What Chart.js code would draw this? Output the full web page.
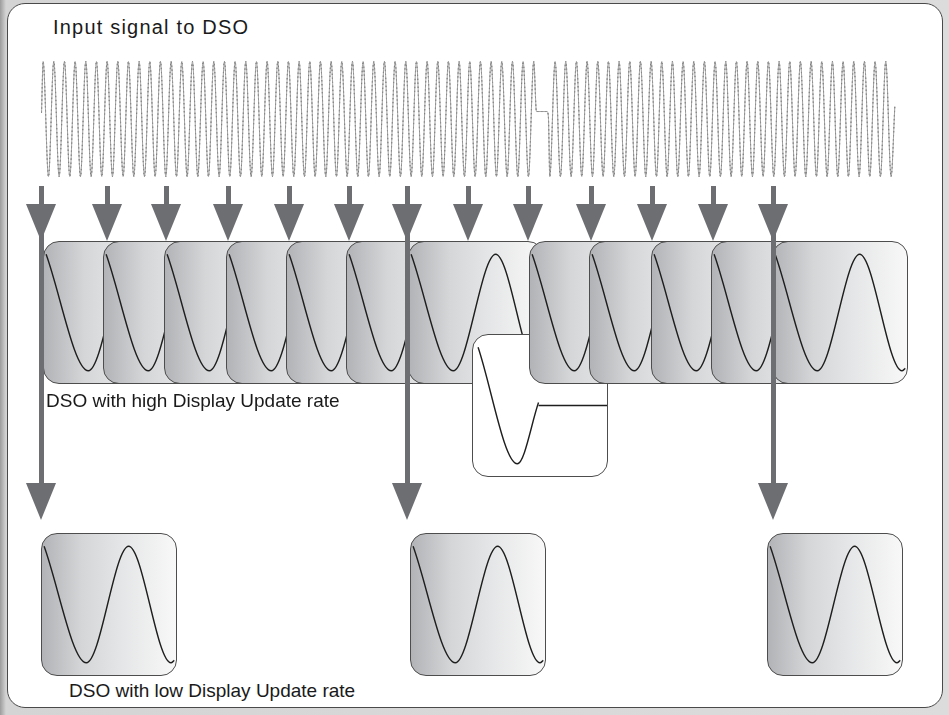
<!DOCTYPE html>
<html>
<head>
<meta charset="utf-8">
<script src="https://cdn.jsdelivr.net/npm/chart.js@4.4.1/dist/chart.umd.min.js"></script>
<style>
  html, body { margin: 0; padding: 0; }
  body {
    width: 949px; height: 715px; overflow: hidden; position: relative;
    background: linear-gradient(90deg, #9c9c9c 0px, #d4d4d4 6px, #dcdcdc 100%);
    font-family: "Liberation Sans", Arial, sans-serif;
  }
  #panel {
    position: absolute; left: 7px; top: 3px; width: 934px; height: 703px;
    background: #fff; border: 1px solid #4a4a4a; border-radius: 18px;
  }
  #signal { position: absolute; left: 33px; top: 50px; }
  .screen {
    position: absolute; width: 134px; height: 141px;
    border: 1px solid #4d4d4d; border-radius: 16px; overflow: hidden;
    background: linear-gradient(90deg, #b2b3b6 0%, #d5d6d8 30%, #e5e6e7 60%, #f8f8f8 100%);
  }
  .screen.popup { background: #fff; }
  .screen canvas { display: block; }
  .label { position: absolute; font-size: 19px; line-height: 19px; color: #1a1a1a; white-space: nowrap; }
  .shaft { position: absolute; width: 5px; background: #6d6e71; }
  .head { position: absolute; width: 30px; height: 37px; background: #6d6e71; clip-path: polygon(0 0, 100% 0, 50% 100%); }
</style>
</head>
<body>
<div id="panel"></div>
<canvas id="signal" width="875" height="138"></canvas>
<script>
// Input signal: one level per half period (peak = 1, trough = -1), null where the glitch replaces it
const signalLevels = [
  1, -1, 1, -1, 1, -1, 1, -1, 1, -1, 1, -1, 1, -1, 1, -1, 1, -1, 1, -1,
  1, -1, 1, -1, 1, -1, 1, -1, 1, -1, 1, -1, 1, -1, 1, -1, 1, -1, 1, -1,
  1, -1, 1, -1, 1, -1, 1, -1, 1, -1, 1, -1, 1, -1, 1, -1, 1, -1, 1, -1,
  1, -1, 1, -1, 1, -1, 1, -1, 1, -1, 1, -1, 1, -1, 1, -1, 1, -1, 1, -1,
  1, -1, 1, -1, 1, -1, 1, -1, 1, -1, 1, -1, 1, null, null, -1, 1, -1, 1, -1,
  1, -1, 1, -1, 1, -1, 1, -1, 1, -1, 1, -1, 1, -1, 1, -1, 1, -1, 1, -1,
  1, -1, 1, -1, 1, -1, 1, -1, 1, -1, 1, -1, 1, -1, 1, -1, 1, -1, 1, -1,
  1, -1, 1, -1, 1, -1, 1, -1, 1, -1, 1, -1, 1, -1, 1, -1, 1, -1, 1, -1
];
// Extra points of the input signal (start, the glitch, end), in half periods
const extraSteps = [-0.3, 92.5, 94.5, 94.75, 159.7];
const extraLevels = [0.11, 0.13, 0.13, 0.02, 0.22];

// What one DSO screen shows (time in half periods)
const screenTime = [0, 1, 2, 3, 3.08];
const screenLevel = [1, -1, 1, -1, -0.96];

// The screen that caught the glitch
const glitchTime = [0.07, 1, 1.5];
const glitchLevel = [1, -1, 0.05];
const glitchFlatTime = [1.5, 3.2];
const glitchFlatLevel = [0, 0];

// Texts
const titleText = 'Input signal to DSO';
const highRateText = 'DSO with high Display Update rate';
const lowRateText = 'DSO with low Display Update rate';

// Layout
const highScreenLeft = [43, 103, 164, 226, 286, 346, 408, 529, 589, 651, 711, 772];
const highScreenTop = 241;
const glitchScreenPos = { left: 472, top: 334 };
const lowScreenLeft = [41, 410, 767];
const lowScreenTop = 533;
const arrowX = [41, 107, 166, 228, 289, 349, 407, 468, 528, 591, 652, 713, 773];
const longArrowX = [41, 407, 773];

function toPoints(xs, ys) {
    return xs.map((x, i) => ({ x: x, y: ys[i] }));
}

function lineSet(points, color, width, dash) {
    return {
        data: points,
        borderColor: color,
        borderWidth: width,
        borderDash: dash || [],
        pointRadius: 0,
        fill: false,
        cubicInterpolationMode: 'monotone'
    };
}

function drawWave(canvas, datasets, xMin, xMax, yMin, yMax) {
    return new Chart(canvas, {
        type: 'line',
        data: { datasets: datasets },
        options: {
            responsive: false,
            animation: false,
            events: [],
            layout: { padding: 0 },
            plugins: { legend: { display: false }, tooltip: { enabled: false } },
            scales: {
                x: { type: 'linear', display: false, min: xMin, max: xMax },
                y: { type: 'linear', display: false, min: yMin, max: yMax }
            }
        }
    });
}

// Input signal: light grey trace with a dark dotted overlay
const signalPoints = [];
signalLevels.forEach((v, i) => { if (v !== null) signalPoints.push({ x: i, y: v }); });
extraSteps.forEach((s, i) => signalPoints.push({ x: s, y: extraLevels[i] }));
signalPoints.sort((a, b) => a.x - b.x);
drawWave(document.getElementById('signal'), [
    lineSet(signalPoints, '#9a9a9a', 0.9),
    lineSet(signalPoints, '#222', 0.9, [1.5, 2.5])
], -1.9, 162.17, -1.2, 1.2);

// Screens
function addScreen(left, top, popup) {
    const div = document.createElement('div');
    div.className = popup ? 'screen popup' : 'screen';
    div.style.left = left + 'px';
    div.style.top = top + 'px';
    const canvas = document.createElement('canvas');
    canvas.width = 134;
    canvas.height = 141;
    div.appendChild(canvas);
    document.body.appendChild(div);
    const sets = popup
        ? [lineSet(toPoints(glitchTime, glitchLevel), '#1e1e1e', 1.4),
           lineSet(toPoints(glitchFlatTime, glitchFlatLevel), '#1e1e1e', 1.4)]
        : [lineSet(toPoints(screenTime, screenLevel), '#1e1e1e', 1.4)];
    drawWave(canvas, sets, -0.05, 3.12, -1.21, 1.21);
}

highScreenLeft.slice(0, 7).forEach(x => addScreen(x, highScreenTop, false));
addScreen(glitchScreenPos.left, glitchScreenPos.top, true);
highScreenLeft.slice(7).forEach(x => addScreen(x, highScreenTop, false));
lowScreenLeft.forEach(x => addScreen(x, lowScreenTop, false));

// Arrows
function addBox(cls, left, top, height) {
    const d = document.createElement('div');
    d.className = cls;
    d.style.left = left + 'px';
    d.style.top = top + 'px';
    if (height) d.style.height = height + 'px';
    document.body.appendChild(d);
}
arrowX.forEach(x => {
    addBox('shaft', x - 2.5, 186, 22);
    addBox('head', x - 15, 204);
});
longArrowX.forEach(x => {
    addBox('shaft', x - 2.5, 186, 300);
    addBox('head', x - 15, 483);
});

// Labels
function addLabel(text, left, top) {
    const d = document.createElement('div');
    d.className = 'label';
    d.textContent = text;
    d.style.left = left + 'px';
    d.style.top = top + 'px';
    document.body.appendChild(d);
    return d;
}
const title = addLabel(titleText, 53, 18);
title.style.fontSize = '20px';
title.style.letterSpacing = '1.2px';
addLabel(highRateText, 46, 391);
addLabel(lowRateText, 69, 681);
</script>
</body>
</html>
